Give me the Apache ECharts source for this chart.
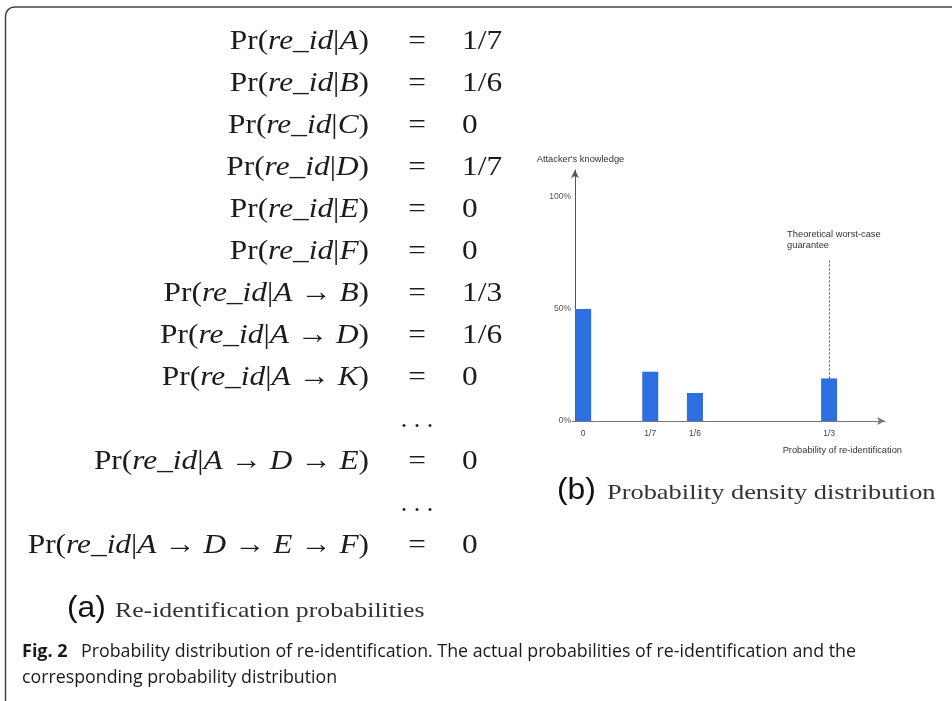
<!DOCTYPE html>
<html>
<head>
<meta charset="utf-8">
<script src="https://cdn.jsdelivr.net/npm/echarts@6/dist/echarts.min.js"></script>
<style>
  html, body { margin: 0; padding: 0; background: #ffffff; }
  #fig { width: 952px; height: 701px; }
</style>
</head>
<body>
<div id="fig"></div>
<script>
// ---- (a) re-identification probabilities: conditioning paths and their values ----
const conditions = ['A', 'B', 'C', 'D', 'E', 'F', 'A → B', 'A → D', 'A → K', null, 'A → D → E', null, 'A → D → E → F'];
const reidValues = ['1/7', '1/6', '0', '1/7', '0', '0', '1/3', '1/6', '0', null, '0', null, '0'];

// ---- (b) probability density distribution ----
const reidLevels = ['0', '1/7', '1/6', '1/3'];   // x tick labels
const knowledgePct = [50, 22, 12.5, 19];         // bar heights, % of attacker's knowledge
const yTickLabels = ['0%', '50%', '100%'];
const worstCaseLevel = '1/3';

// ---- layout ----
const levelSlot = [0, 3, 5, 11];   // where each level sits along the (non-linear) x axis
const slotCount = 14;
const guaranteeTop = 72;           // upper end of the dotted guarantee marker (axis units)

const xCategories = Array.from({ length: slotCount }, () => '');
reidLevels.forEach((lv, i) => { xCategories[levelSlot[i]] = lv; });

const MATH = '"Liberation Serif", "Times New Roman", serif';
const SANS = '"Liberation Sans", Arial, Helvetica, sans-serif';
const CAP = '"Open Sans", "Noto Sans", sans-serif';
const INK = '#1c1c1c';
const MATH_WIDEN = 1.12;   // serif glyphs are stretched a little to a text-math width

const mathRich = {
  rm: { fontFamily: MATH, fontSize: 28, fill: INK },
  it: { fontFamily: MATH, fontSize: 28, fontStyle: 'italic', fill: INK }
};

function lhs(cond) {
  const parts = cond.split('→').map(s => s.trim());
  return '{rm|Pr(}{it|re}{rm|_}{it|id}{rm||}' +
    parts.map(p => '{it|' + p + '}').join('{rm| → }') + '{rm|)}';
}

const rowY = k => 41.7 + 42 * k;

const graphics = [
  {
    type: 'rect', silent: true,
    shape: { x: 5.5, y: 7, width: 1000, height: 760, r: 9 },
    style: { fill: 'none', stroke: '#444', lineWidth: 1.5 }
  }
];

conditions.forEach((c, k) => {
  const y = rowY(k);
  if (c === null) {
    graphics.push({
      type: 'text', x: 417, y: y, silent: true, scaleX: 1.0,
      style: { text: '. . .', fontFamily: MATH, fontSize: 26, fill: INK, align: 'center', verticalAlign: 'middle' }
    });
    return;
  }
  graphics.push({
    type: 'text', x: 369, y: y, silent: true, scaleX: MATH_WIDEN,
    style: { text: lhs(c), rich: mathRich, fontFamily: MATH, fontSize: 28, fill: INK, align: 'right', verticalAlign: 'middle' }
  });
  graphics.push({
    type: 'text', x: 417, y: y, silent: true, scaleX: MATH_WIDEN,
    style: { text: '=', fontFamily: MATH, fontSize: 28, fill: INK, align: 'center', verticalAlign: 'middle' }
  });
  graphics.push({
    type: 'text', x: 462, y: y, silent: true, scaleX: MATH_WIDEN,
    style: { text: reidValues[k], fontFamily: MATH, fontSize: 28, fill: INK, align: 'left', verticalAlign: 'middle' }
  });
});

// panel captions
graphics.push(
  { type: 'text', x: 67, y: 609, silent: true, scaleX: 1.1,
    style: { text: '(a)', fontFamily: SANS, fontSize: 29, fill: '#111', align: 'left', verticalAlign: 'middle' } },
  { type: 'text', x: 115, y: 611, silent: true, scaleX: 1.17,
    style: { text: 'Re-identification probabilities', fontFamily: MATH, fontSize: 22, fill: '#333', align: 'left', verticalAlign: 'middle' } },
  { type: 'text', x: 557, y: 491, silent: true, scaleX: 1.1,
    style: { text: '(b)', fontFamily: SANS, fontSize: 29, fill: '#111', align: 'left', verticalAlign: 'middle' } },
  { type: 'text', x: 607, y: 493, silent: true, scaleX: 1.2,
    style: { text: 'Probability density distribution', fontFamily: MATH, fontSize: 22, fill: '#333', align: 'left', verticalAlign: 'middle' } },
  // figure caption
  { type: 'text', x: 22, y: 652, silent: true,
    style: { text: 'Fig. 2', fontFamily: CAP, fontWeight: 'bold', fontSize: 18, fill: '#1a1a1a', align: 'left', verticalAlign: 'middle' } },
  { type: 'text', x: 81, y: 652, silent: true,
    style: { text: 'Probability distribution of re-identification. The actual probabilities of re-identification and the', fontFamily: CAP, fontSize: 17.8, fill: '#1a1a1a', align: 'left', verticalAlign: 'middle' } },
  { type: 'text', x: 22, y: 678, silent: true,
    style: { text: 'corresponding probability distribution', fontFamily: CAP, fontSize: 17.8, fill: '#1a1a1a', align: 'left', verticalAlign: 'middle' } }
);

const chart = echarts.init(document.getElementById('fig'), null, { renderer: 'canvas' });

chart.setOption({
  animation: false,
  backgroundColor: '#ffffff',
  grid: { left: 572, top: 170, width: 313, height: 251, containLabel: false },
  xAxis: {
    type: 'category',
    data: xCategories,
    boundaryGap: true,
    axisLine: { show: true, lineStyle: { color: '#777', width: 1 }, symbol: ['none', 'arrow'], symbolSize: [6, 8] },
    axisTick: { show: false },
    axisLabel: { interval: 0, fontSize: 8.5, color: '#444', fontFamily: SANS, margin: 8 },
    name: 'Probability of re-identification',
    nameLocation: 'end',
    nameGap: 17,
    nameTextStyle: { fontSize: 9.3, color: '#333', fontFamily: SANS, align: 'right', verticalAlign: 'top', padding: [25, 0, 0, 0] }
  },
  yAxis: {
    type: 'value',
    min: 0, max: 112, interval: 50,
    offset: -3,
    axisLine: { show: true, lineStyle: { color: '#555', width: 1 }, symbol: ['none', 'arrow'], symbolSize: [6, 8] },
    axisTick: { show: false },
    splitLine: { show: false },
    axisLabel: {
      showMaxLabel: false, fontSize: 8.5, color: '#555', fontFamily: SANS, margin: 4,
      formatter: v => yTickLabels[[0, 50, 100].indexOf(v)] || ''
    },
    name: "Attacker's knowledge",
    nameLocation: 'end',
    nameGap: 6,
    nameTextStyle: { fontSize: 9.3, color: '#333', fontFamily: SANS, padding: [0, 0, 0, 11] }
  },
  series: [{
    type: 'bar',
    barWidth: 16,
    silent: true,
    itemStyle: { color: '#2b6fe0' },
    data: reidLevels.map((lv, i) => [lv, knowledgePct[i]]),
    markLine: {
      silent: true,
      symbol: ['none', 'none'],
      lineStyle: { type: [2, 2], color: '#555', width: 1 },
      label: {
        show: true, position: 'end',
        formatter: 'Theoretical worst-case\nguarantee',
        fontSize: 9.3, color: '#333', fontFamily: SANS,
        align: 'left', lineHeight: 11.5, offset: [-42, -3]
      },
      data: [[
        { coord: [worstCaseLevel, knowledgePct[reidLevels.indexOf(worstCaseLevel)]] },
        { coord: [worstCaseLevel, guaranteeTop] }
      ]]
    }
  }],
  graphic: graphics
});
</script>
</body>
</html>
